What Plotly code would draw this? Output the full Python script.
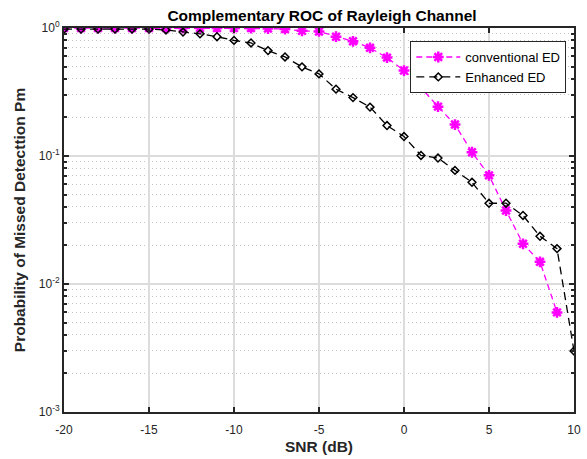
import plotly.graph_objects as go

# SNR sweep (dB)
snr_db = list(range(-20, 11))

# Probability of missed detection, conventional energy detector
pm_conventional = [
    1.0, 1.0, 1.0, 1.0, 1.0, 1.0, 1.0, 1.0, 1.0, 1.0, 1.0, 1.0, 0.99,
    0.98, 0.95, 0.94, 0.855, 0.787, 0.70, 0.587, 0.465, 0.342, 0.243,
    0.176, 0.107, 0.0706, 0.0375, 0.0206, 0.0149, 0.0060, None,
]

# Probability of missed detection, enhanced energy detector
pm_enhanced = [
    0.98, 0.98, 0.98, 0.98, 0.98, 0.98, 0.965, 0.93, 0.90, 0.855, 0.80,
    0.764, 0.666, 0.594, 0.497, 0.438, 0.333, 0.286, 0.241, 0.173, 0.142,
    0.101, 0.0964, 0.0772, 0.0623, 0.0427, 0.0428, 0.0343, 0.0236, 0.0189,
    0.0030,
]

y_tick_vals = [1e-3, 1e-2, 1e-1, 1e0]
y_tick_text = ["10<sup>-3</sup>", "10<sup>-2</sup>", "10<sup>-1</sup>", "10<sup>0</sup>"]
x_tick_vals = [-20, -15, -10, -5, 0, 5, 10]
x_tick_text = ["-20", "-15", "-10", "-5", "0", "5", "10"]

FONT = "Liberation Sans, Arial, sans-serif"

fig = go.Figure()
fig.add_trace(go.Scatter(
    x=snr_db, y=pm_conventional, name="conventional ED",
    mode="lines+markers", connectgaps=False,
    line=dict(color="#ff00ff", width=1.3, dash="6px,4px"),
    marker=dict(symbol="asterisk-open", size=9, color="#ff00ff",
                line=dict(color="#ff00ff", width=2.5)),
))
fig.add_trace(go.Scatter(
    x=snr_db, y=pm_enhanced, name="Enhanced ED",
    mode="lines+markers",
    line=dict(color="#000000", width=1.3, dash="8px,5px"),
    marker=dict(symbol="diamond-open", size=6, color="#000000",
                line=dict(color="#000000", width=1.5)),
))

fig.update_layout(
    width=587, height=459,
    margin=dict(l=64, r=6, t=28, b=45),
    paper_bgcolor="white", plot_bgcolor="white",
    font=dict(family=FONT, size=12, color="#262626"),
    title=dict(text="<b>Complementary ROC of Rayleigh Channel</b>",
               x=(322 / 587), xanchor="center", y=1 - 15.5 / 459, yanchor="middle",
               font=dict(family=FONT, size=15.5, color="#000000")),
    showlegend=True,
    legend=dict(x=0.679, y=0.966, xanchor="left", yanchor="top",
                bgcolor="white", bordercolor="#262626", borderwidth=1,
                font=dict(family=FONT, size=13, color="#000000"),
                itemwidth=44, tracegroupgap=0),
)

fig.update_xaxes(
    range=[-20, 10], tickvals=x_tick_vals, ticktext=x_tick_text,
    ticks="inside", ticklen=5, ticklabelstandoff=6,
    tickcolor="#262626", tickwidth=1.5,
    showgrid=True, gridcolor="#dcdcdc", gridwidth=1.5,
    showline=True, linecolor="#262626", linewidth=2, mirror="ticks",
    zeroline=False,
    tickfont=dict(family=FONT, size=12, color="#262626"),
    title=dict(text="<b>SNR (dB)</b>", standoff=5,
               font=dict(family=FONT, size=15.5, color="#262626")),
)
fig.update_yaxes(
    type="log", range=[-3, 0], tickvals=y_tick_vals, ticktext=y_tick_text,
    ticks="inside", ticklen=5, tickcolor="#262626", tickwidth=1.5,
    showgrid=True, gridcolor="#dcdcdc", gridwidth=1.5,
    showline=True, linecolor="#262626", linewidth=2, mirror="ticks",
    zeroline=False,
    minor=dict(dtick="D1", ticks="inside", ticklen=3, tickcolor="#262626",
               showgrid=True, gridcolor="#c4c4c4", griddash="1px,3px", gridwidth=1),
    tickfont=dict(family=FONT, size=12, color="#262626"),
    title=dict(text="<b>Probability of Missed Detecttion Pm</b>", standoff=9,
               font=dict(family=FONT, size=15.5, color="#262626")),
)

fig.write_html("out.html")
